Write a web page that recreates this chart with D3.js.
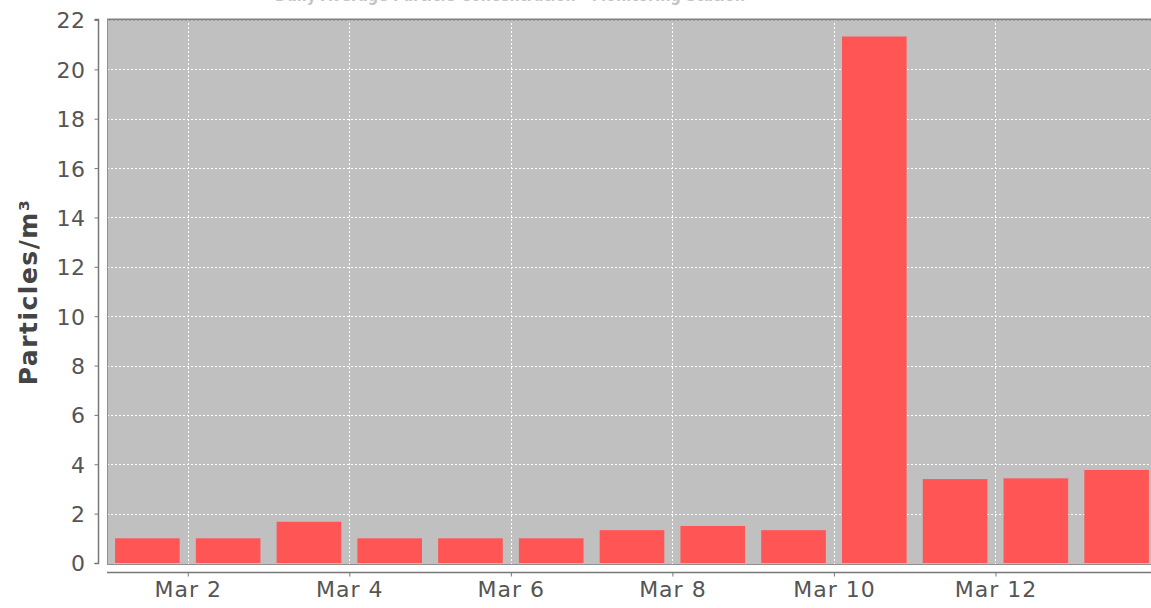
<!DOCTYPE html>
<html><head><meta charset="utf-8">
<script src="https://cdn.jsdelivr.net/npm/d3@7"></script>
<style>body{margin:0;background:#fff;overflow:hidden}svg{display:block}</style>
</head><body>
<svg id="c" width="1151" height="608"></svg>
<script>
const title = "Daily Average Particle Concentration - Monitoring Station";
const dates = ["2013-03-01","2013-03-02","2013-03-03","2013-03-04","2013-03-05","2013-03-06","2013-03-07","2013-03-08","2013-03-09","2013-03-10","2013-03-11","2013-03-12","2013-03-13"];
const values = [1.0, 1.0, 1.67, 1.0, 1.0, 1.0, 1.33, 1.5, 1.33, 21.33, 3.4, 3.43, 3.77];
const yTicks = [0,2,4,6,8,10,12,14,16,18,20,22];
const xTickDates = ["2013-03-02","2013-03-04","2013-03-06","2013-03-08","2013-03-10","2013-03-12"];
const yLabel = "Particles/m³";

const parse = d3.utcParse("%Y-%m-%d");
const svg = d3.select("#c");
const L = 107, R = 1157, T = 19, B = 563;
const x = d3.scaleUtc().domain([parse("2013-03-01"), parse("2013-03-14")]).range([L, R]);
const y = d3.scaleLinear().domain([0, 22.04]).range([B, T]);

// title (cut off at top, as in the reference)
svg.append("text").attr("x", 510).attr("y", 1).attr("text-anchor","middle")
  .attr("font-family","DejaVu Sans").attr("font-size",18).attr("font-weight","bold")
  .attr("textLength", 470).attr("lengthAdjust","spacingAndGlyphs")
  .attr("fill","#c4c4c4").text(title);

svg.append("rect").attr("x", L).attr("y", T).attr("width", R - L).attr("height", B - T + 1).attr("fill", "#c0c0c0");

const g = svg.append("g");
g.selectAll(".hg").data(yTicks.filter(v=>v>0)).join("line")
  .attr("x1", L).attr("x2", R).attr("y1", d=>Math.round(y(d))+0.5).attr("y2", d=>Math.round(y(d))+0.5)
  .attr("stroke","#fff").attr("stroke-width",1).attr("stroke-dasharray","2,2");
g.selectAll(".vg").data(xTickDates.map(parse)).join("line")
  .attr("y1", T).attr("y2", B+1).attr("x1", d=>Math.round(x(d))+0.5).attr("x2", d=>Math.round(x(d))+0.5)
  .attr("stroke","#fff").attr("stroke-width",1).attr("stroke-dasharray","2,2");

const day = 24*3600*1000;
g.selectAll(".bar").data(dates.map((d,i)=>({d:parse(d), v:values[i]}))).join("rect")
  .attr("x", d => x(d.d) + 0.1*(x(new Date(+d.d+day)) - x(d.d)))
  .attr("width", d => 0.8*(x(new Date(+d.d+day)) - x(d.d)))
  .attr("y", d => y(d.v)).attr("height", d => B - y(d.v))
  .attr("fill", "#ff5555");

svg.append("line").attr("x1",L).attr("x2",R).attr("y1",T+0.5).attr("y2",T+0.5).attr("stroke","#808080").attr("stroke-width",2);
svg.append("line").attr("x1",L+0.5).attr("x2",L+0.5).attr("y1",T).attr("y2",B+1).attr("stroke","#909090").attr("stroke-width",1);
svg.append("line").attr("x1",L).attr("x2",R).attr("y1",B+1.5).attr("y2",B+1.5).attr("stroke","#909090").attr("stroke-width",1);

const yAxis = d3.axisLeft(y).tickValues(yTicks).tickSize(4).tickPadding(9).tickFormat(d3.format("d"));
const ya = svg.append("g").attr("transform","translate(98.5,0)").call(yAxis);
ya.select(".domain").attr("d", `M-4,${T+0.5}H0V${B+0.5}H-4`).attr("stroke","#777").attr("stroke-width",1.5);
ya.selectAll(".tick line").attr("stroke","#777");
ya.selectAll("text").attr("font-family","DejaVu Sans").attr("font-size",22).attr("fill","#555").attr("dy","0.36em").attr("letter-spacing","0.5px");

const xAxis = d3.axisBottom(x).tickValues(xTickDates.map(parse)).tickSize(4).tickPadding(5).tickFormat(d3.utcFormat("%b %-d"));
const xa = svg.append("g").attr("transform","translate(0,572.5)").call(xAxis);
xa.select(".domain").attr("d", `M${L},0H${R}`).attr("stroke","#777").attr("stroke-width",1.5);
xa.selectAll(".tick line").attr("stroke","#777");
xa.selectAll("text").attr("font-family","DejaVu Sans").attr("font-size",22).attr("fill","#555").attr("letter-spacing","1px");

svg.append("text").attr("transform","translate(37,292) rotate(-90)").attr("text-anchor","middle")
  .attr("font-family","DejaVu Sans").attr("font-weight","bold").attr("font-size",25).attr("fill","#444")
  .attr("letter-spacing","1.5px").text(yLabel);
</script>
</body></html>
